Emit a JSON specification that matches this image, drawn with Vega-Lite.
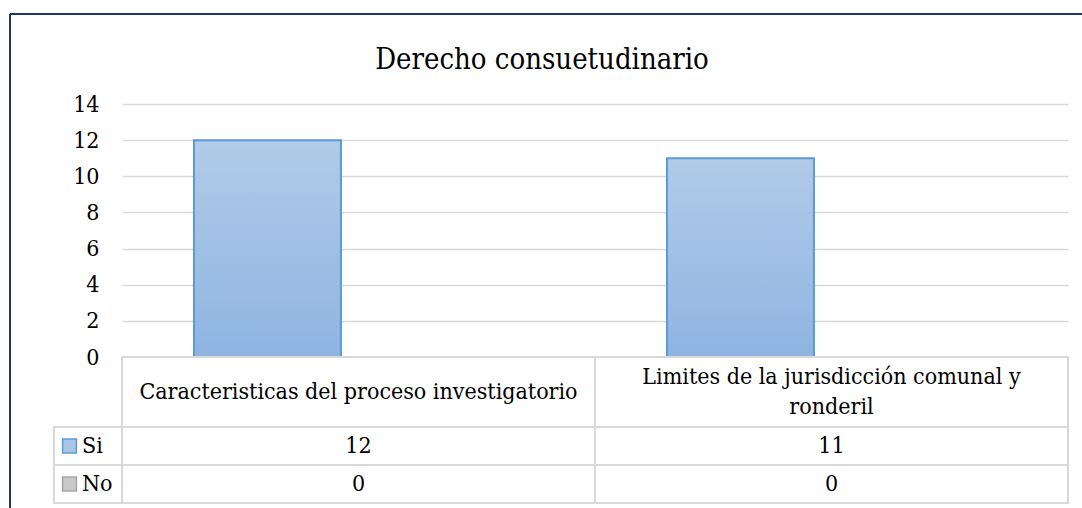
{
  "$schema": "https://vega.github.io/schema/vega-lite/v6.json",
  "padding": {"left": 9, "top": 13, "right": 0, "bottom": 0},
  "background": "white",
  "config": {
    "font": "DejaVu Serif Condensed",
    "view": {"stroke": null}
  },
  "datasets": {
    "main": [
      {"category": "Caracteristicas del proceso investigatorio", "series": "Si", "value": 12},
      {"category": "Limites de la jurisdicción comunal y\nronderil", "series": "Si", "value": 11},
      {"category": "Caracteristicas del proceso investigatorio", "series": "No", "value": 0},
      {"category": "Limites de la jurisdicción comunal y\nronderil", "series": "No", "value": 0}
    ]
  },
  "columns": 3,
  "spacing": 0,
  "bounds": "flush",
  "align": "each",
  "concat": [
    {
      "width": 44, "height": 90,
      "data": {"values": [{}]},
      "layer": [
        {"mark": {"type": "rule", "color": "#203864", "strokeWidth": 2},
         "encoding": {"y": {"datum": 1, "type": "quantitative", "scale": {"domain": [0, 1]}, "axis": null}}},
        {"mark": {"type": "rule", "color": "#203864", "strokeWidth": 2},
         "encoding": {"x": {"datum": 0, "type": "quantitative", "scale": {"domain": [0, 1]}, "axis": null}}}
      ]
    },
    {
      "width": 68, "height": 90,
      "data": {"values": [{}]},
      "mark": {"type": "rule", "color": "#203864", "strokeWidth": 2},
      "encoding": {"y": {"datum": 1, "type": "quantitative", "scale": {"domain": [0, 1]}, "axis": null}}
    },
    {
      "width": 960, "height": 90,
      "data": {"values": [{"title": "Derecho consuetudinario"}]},
      "layer": [
        {"mark": {"type": "rule", "color": "#203864", "strokeWidth": 2},
         "encoding": {"y": {"datum": 1, "type": "quantitative", "scale": {"domain": [0, 1]}, "axis": null}}},
        {"mark": {"type": "text", "font": "DejaVu Serif Condensed", "fontSize": 29, "dx": -60, "dy": 1, "color": "#000000", "align": "center", "baseline": "middle"},
         "encoding": {"text": {"field": "title", "type": "nominal"}}}
      ]
    },
    {
      "width": 44, "height": 253,
      "data": {"values": [{}]},
      "mark": {"type": "rule", "color": "#203864", "strokeWidth": 2},
      "encoding": {"x": {"datum": 0, "type": "quantitative", "scale": {"domain": [0, 1]}, "axis": null}}
    },
    {
      "width": 68, "height": 253,
      "data": {"values": []},
      "mark": "point",
      "encoding": {}
    },
    {
      "width": 946, "height": 253,
      "data": {"name": "main"},
      "transform": [{"filter": "datum.series == 'Si'"}],
      "mark": {
        "type": "bar",
        "fill": {"gradient": "linear", "x1": 0, "y1": 0, "x2": 0, "y2": 1,
                 "stops": [{"offset": 0, "color": "#B1CBE9"}, {"offset": 1, "color": "#8FB4E2"}]},
        "stroke": "#5B9BD5",
        "strokeWidth": 2
      },
      "encoding": {
        "x": {"field": "category", "type": "nominal",
              "scale": {"domain": ["Caracteristicas del proceso investigatorio", "Limites de la jurisdicción comunal y\nronderil"], "paddingInner": 0, "paddingOuter": 0},
              "axis": null},
        "xOffset": {"field": "series", "type": "nominal",
                    "scale": {"domain": ["Si", "No"], "paddingInner": 0, "paddingOuter": 0.609, "align": 0.402}},
        "y": {"field": "value", "type": "quantitative",
              "scale": {"domain": [0, 14], "nice": false},
              "axis": {"values": [0, 2, 4, 6, 8, 10, 12, 14], "title": null, "domain": false, "ticks": false, "tickSize": 0,
                       "labelPadding": 23, "labelFontSize": 23, "labelColor": "#000000",
                       "labelFont": "DejaVu Serif Condensed",
                       "gridColor": "#D9D9D9", "gridWidth": 1.5}}
      }
    },
    {
      "width": 44, "height": 70,
      "data": {"values": [{}]},
      "mark": {"type": "rule", "color": "#203864", "strokeWidth": 2},
      "encoding": {"x": {"datum": 0, "type": "quantitative", "scale": {"domain": [0, 1]}, "axis": null}}
    },
    {
      "width": 68, "height": 70,
      "data": {"values": []},
      "mark": "point",
      "encoding": {}
    },
    {
      "width": 946, "height": 70,
      "data": {"name": "main"},
      "transform": [{"filter": "datum.series == 'Si'"}],
      "encoding": {
        "x": {"field": "category", "type": "nominal",
              "scale": {"domain": ["Caracteristicas del proceso investigatorio", "Limites de la jurisdicción comunal y\nronderil"], "paddingInner": 0, "paddingOuter": 0},
              "axis": null}
      },
      "layer": [
        {"mark": {"type": "rect", "fill": "#FFFFFF", "stroke": "#D9D9D9", "strokeWidth": 2}},
        {"transform": [{"filter": "datum.category == 'Caracteristicas del proceso investigatorio'"}],
         "mark": {"type": "text", "font": "DejaVu Serif Condensed", "fontSize": 23, "color": "#000000", "baseline": "middle"},
         "encoding": {"text": {"field": "category", "type": "nominal"}}},
        {"transform": [{"filter": "datum.category != 'Caracteristicas del proceso investigatorio'"}],
         "mark": {"type": "text", "font": "DejaVu Serif Condensed", "fontSize": 23, "lineBreak": "\n", "lineHeight": 30, "dy": -15, "color": "#000000", "baseline": "middle"},
         "encoding": {"text": {"field": "category", "type": "nominal"}}}
      ]
    },
    {
      "width": 44, "height": 81,
      "data": {"values": [{}]},
      "mark": {"type": "rule", "color": "#203864", "strokeWidth": 2},
      "encoding": {"x": {"datum": 0, "type": "quantitative", "scale": {"domain": [0, 1]}, "axis": null}}
    },
    {
      "width": 68, "height": 76,
      "data": {"name": "main"},
      "transform": [{"filter": "datum.category == 'Caracteristicas del proceso investigatorio'"}],
      "encoding": {
        "y": {"field": "series", "type": "nominal",
              "scale": {"domain": ["Si", "No"], "paddingInner": 0, "paddingOuter": 0}, "axis": null}
      },
      "layer": [
        {"mark": {"type": "rect", "fill": "#FFFFFF", "stroke": "#D9D9D9", "strokeWidth": 2}},
        {"mark": {"type": "point", "shape": "square", "size": 190, "filled": true, "opacity": 1, "strokeWidth": 1.5, "xOffset": -18.5},
         "encoding": {
           "fill": {"field": "series", "type": "nominal", "scale": {"domain": ["Si", "No"], "range": ["#A9C5E8", "#C9C9C9"]}, "legend": null},
           "stroke": {"field": "series", "type": "nominal", "scale": {"domain": ["Si", "No"], "range": ["#5B9BD5", "#A5A5A5"]}, "legend": null}
         }},
        {"mark": {"type": "text", "font": "DejaVu Serif Condensed", "fontSize": 23, "align": "left", "dx": -6, "color": "#000000", "baseline": "middle"},
         "encoding": {"text": {"field": "series", "type": "nominal"}}}
      ]
    },
    {
      "width": 946, "height": 76,
      "data": {"name": "main"},
      "encoding": {
        "x": {"field": "category", "type": "nominal",
              "scale": {"domain": ["Caracteristicas del proceso investigatorio", "Limites de la jurisdicción comunal y\nronderil"], "paddingInner": 0, "paddingOuter": 0},
              "axis": null},
        "y": {"field": "series", "type": "nominal",
              "scale": {"domain": ["Si", "No"], "paddingInner": 0, "paddingOuter": 0}, "axis": null}
      },
      "layer": [
        {"mark": {"type": "rect", "fill": "#FFFFFF", "stroke": "#D9D9D9", "strokeWidth": 2}},
        {"mark": {"type": "text", "font": "DejaVu Serif Condensed", "fontSize": 23, "color": "#000000", "baseline": "middle"},
         "encoding": {"text": {"field": "value", "type": "quantitative"}}}
      ]
    }
  ]
}
